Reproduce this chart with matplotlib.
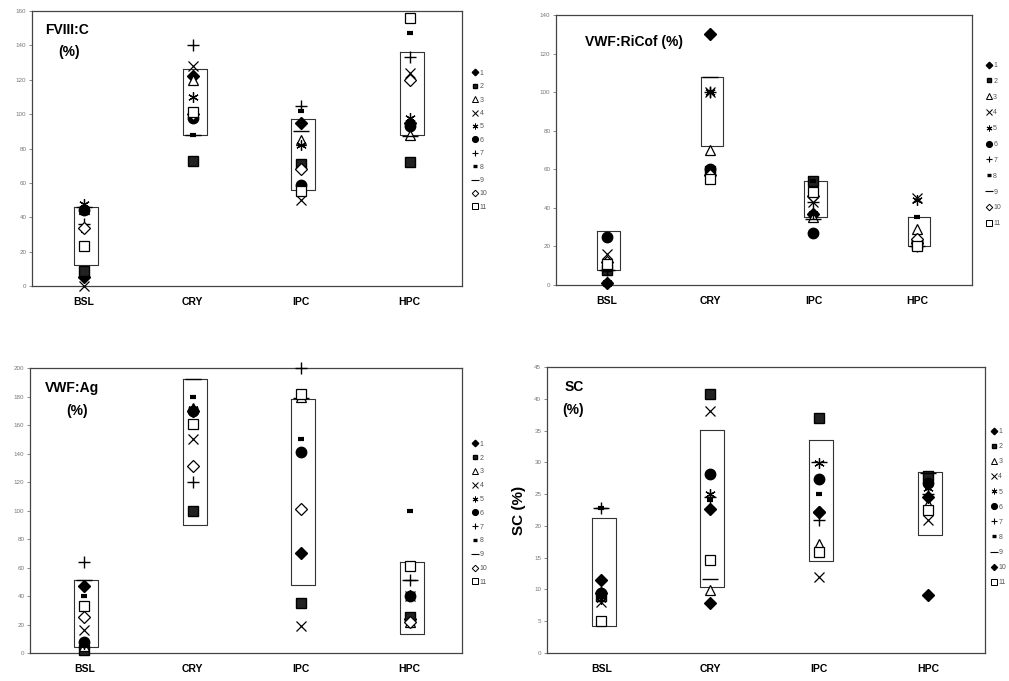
import matplotlib
matplotlib.use('Agg')
import matplotlib.pyplot as plt
from matplotlib.lines import Line2D

plt.rcParams['font.family'] = ['Liberation Sans', 'DejaVu Sans']

categories = ['BSL', 'CRY', 'IPC', 'HPC']
patients = ['1', '2', '3', '4', '5', '6', '7', '8', '9', '10', '11']

# values per patient (rows) across categories (columns)
fviii = [
    [5, 122, 95, 95],
    [9, 73, 71, 72],
    [45, 120, 85, 88],
    [0, 128, 50, 124],
    [48, 110, 82, 98],
    [44, 98, 59, 93],
    [36, 140, 105, 133],
    [32, 88, 102, 147],
    [46, 88, 90, 87],
    [34, 100, 68, 120],
    [23, 101, 55, 156],
]
fviii_lo = [12, 88, 56, 88]
fviii_hi = [46, 126, 97, 136]

ricof = [
    [1, 130, 37, 22],
    [8, 59, 54, 21],
    [10, 70, 35, 29],
    [16, 100, 43, 45],
    [1, 100, 37, 44],
    [25, 60, 27, 23],
    [8, 100, 43, 20],
    [8, 100, 54, 35],
    [8, 108, 34, 20],
    [12, 57, 46, 24],
    [11, 55, 48, 20],
]
ricof_lo = [8, 72, 35, 20]
ricof_hi = [28, 108, 54, 35]

vwfag = [
    [47, 170, 70, 24],
    [2, 100, 35, 25],
    [5, 172, 180, 22],
    [16, 150, 19, 40],
    [6, 171, 141, 41],
    [8, 170, 141, 40],
    [64, 120, 200, 51],
    [40, 180, 150, 100],
    [51, 192, 179, 51],
    [25, 131, 101, 22],
    [33, 161, 182, 61],
]
vwfag_lo = [4, 90, 48, 13.5]
vwfag_hi = [51, 192, 178, 64]

sc = [
    [11.5, 22.6, 22.2, 9.2],
    [9, 40.8, 37, 27.8],
    [9, 9.9, 17.2, 23.5],
    [8, 38, 12, 21],
    [8.5, 25, 29.9, 26],
    [9.4, 28.1, 27.3, 26.8],
    [22.8, 24.5, 20.9, 25],
    [22.8, 24.1, 25, 26],
    [22.8, 11.7, 30, 28.3],
    [9.4, 7.8, 22.2, 24.5],
    [5, 14.7, 15.9, 22.5],
]
sc_lo = [4.2, 10.4, 14.5, 18.6]
sc_hi = [21.3, 35.1, 33.5, 28.5]

# marker styles for patients 1..11
def styles(filled10=False):
    return [
        dict(marker='D', mfc='black', mec='black', ms=6),
        dict(marker='s', mfc='#222222', mec='black', ms=6.5),
        dict(marker='^', mfc='white', mec='black', ms=7.5, mew=0.9),
        dict(marker='x', mfc='none', mec='black', ms=7, mew=0.9),
        dict(marker=(6, 2, 0), mfc='none', mec='black', ms=7.5, mew=0.9),
        dict(marker='o', mfc='black', mec='black', ms=7.5),
        dict(marker='+', mfc='none', mec='black', ms=9, mew=1.0),
        dict(marker='_', mfc='none', mec='black', ms=5, mew=3),
        dict(marker='_', mfc='none', mec='black', ms=11, mew=1.0),
        dict(marker='D', mfc='black' if filled10 else 'white', mec='black', ms=6, mew=0.9),
        dict(marker='s', mfc='white', mec='black', ms=7.5, mew=0.9),
    ]

fig = plt.figure(figsize=(10.09, 6.81), dpi=100)

panels = [
    dict(data=fviii, lo=fviii_lo, hi=fviii_hi, rect=[0.0317, 0.580, 0.426, 0.4038],
         ylim=(0, 160), yt=range(0, 161, 20), xlim=(-0.48, 3.48),
         title='FVIII:C', title2='(%)', tpos=(0.03, 0.93), t2pos=(0.06, 0.85),
         leg=(1.025, 0.53), lsp=0.92, f10=False),
    dict(data=ricof, lo=ricof_lo, hi=ricof_hi, rect=[0.551, 0.5815, 0.412, 0.3965],
         ylim=(0, 140), yt=range(0, 141, 20), xlim=(-0.49, 3.53),
         title='VWF:RiCof (%)', title2=None, tpos=(0.07, 0.90), t2pos=None,
         leg=(1.035, 0.52), lsp=1.27, f10=False),
    dict(data=vwfag, lo=vwfag_lo, hi=vwfag_hi, rect=[0.0297, 0.0411, 0.428, 0.4185],
         ylim=(0, 200), yt=range(0, 201, 20), xlim=(-0.5, 3.48),
         title='VWF:Ag', title2='(%)', tpos=(0.035, 0.93), t2pos=(0.085, 0.85),
         leg=(1.025, 0.49), lsp=0.98, f10=False),
    dict(data=sc, lo=sc_lo, hi=sc_hi, rect=[0.542, 0.0411, 0.434, 0.42],
         ylim=(0, 45), yt=range(0, 46, 5), xlim=(-0.5, 3.52),
         title='SC', title2='(%)', tpos=(0.04, 0.93), t2pos=(0.035, 0.85),
         leg=(1.015, 0.51), lsp=1.17, f10=True),
]

for p in panels:
    ax = fig.add_axes(p['rect'])
    st = styles(p['f10'])
    xs = list(range(len(categories)))
    # range boxes
    for i in xs:
        x0, x1 = i - 0.09, i + 0.13
        lo, hi = p['lo'][i], p['hi'][i]
        ax.plot([x0, x1, x1, x0, x0], [hi, hi, lo, lo, hi], color='#333333', lw=0.8, zorder=1)
    handles = []
    for k, vals in enumerate(p['data']):
        s = st[k]
        ax.plot(xs, vals, linestyle='none', zorder=3, clip_on=False, **s)
        hs = dict(s)
        hs['ms'] = s['ms'] * 0.55
        if 'mew' in hs:
            hs['mew'] = hs['mew'] * 0.8
        handles.append(Line2D([], [], linestyle='none', **hs))
    ax.set_xlim(*p['xlim'])
    ax.set_ylim(*p['ylim'])
    ax.set_xticks(xs)
    ax.set_xticklabels(categories, fontsize=7.5, fontweight='bold')
    ax.set_yticks(list(p['yt']))
    ax.set_yticklabels([str(v) for v in p['yt']], fontsize=4.5, color='#777777')
    ax.tick_params(axis='x', length=0, pad=8)
    ax.tick_params(axis='y', length=2, width=0.6, color='#777777', pad=2)
    for sp in ax.spines.values():
        sp.set_color('#444444')
        sp.set_linewidth(0.9)
    ax.text(p['tpos'][0], p['tpos'][1], p['title'], transform=ax.transAxes,
            fontsize=10, fontweight='bold', va='center', ha='left')
    if p['title2']:
        ax.text(p['t2pos'][0], p['t2pos'][1], p['title2'], transform=ax.transAxes,
                fontsize=10, fontweight='bold', va='center', ha='left')
    leg = ax.legend(handles, patients, loc='center left', bbox_to_anchor=p['leg'],
                    frameon=False, fontsize=5, handlelength=0.7, handletextpad=0.3,
                    labelspacing=p['lsp'], borderpad=0, borderaxespad=0)
    for t in leg.get_texts():
        t.set_color('#555555')
    if p['title'] == 'SC':
        ax.set_ylabel('SC (%)', fontsize=11, fontweight='bold', labelpad=6)

fig.savefig('out.png', dpi=100)
